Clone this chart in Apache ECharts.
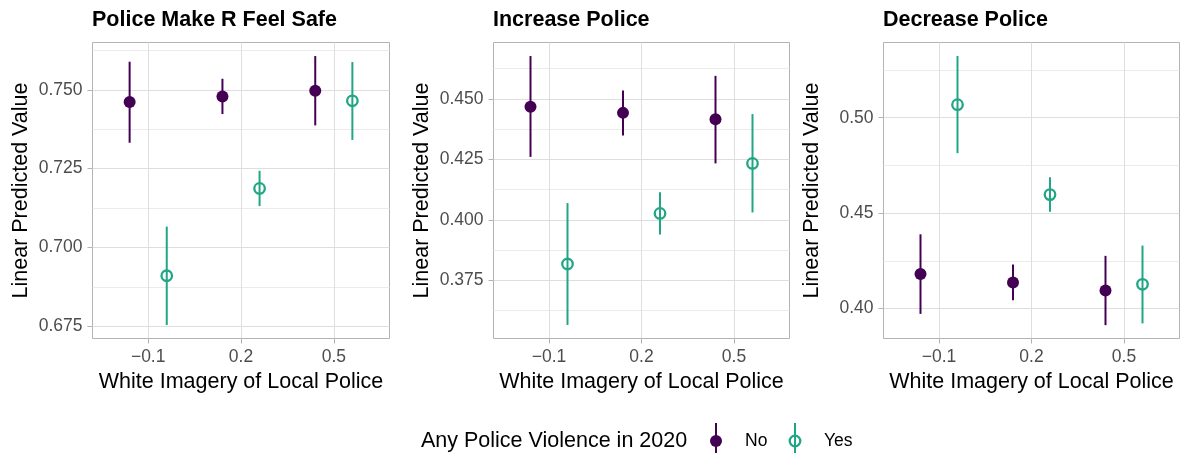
<!DOCTYPE html>
<html>
<head>
<meta charset="utf-8">
<script src="https://cdn.jsdelivr.net/npm/echarts@6/dist/echarts.min.js"></script>
<style>
html,body{margin:0;padding:0;background:#fff;}
#c{width:1182px;height:457px;}
</style>
</head>
<body>
<div id="c"></div>
<script>
// ---- data ----
var panelTitles = ['Police Make R Feel Safe', 'Increase Police', 'Decrease Police'];
var xCategories = ['\u22120.1', '0.2', '0.5'];
var groups = ['No', 'Yes'];

// estimate, lower, upper per category (order: -0.1, 0.2, 0.5)
var safeNo     = [[0.7461, 0.7332, 0.7589], [0.7479, 0.7423, 0.7535], [0.7497, 0.7387, 0.7607]];
var safeYes    = [[0.6910, 0.6754, 0.7066], [0.7187, 0.7131, 0.7243], [0.7465, 0.7341, 0.7588]];
var increaseNo = [[0.4467, 0.4260, 0.4677], [0.4442, 0.4348, 0.4534], [0.4416, 0.4233, 0.4595]];
var increaseYes= [[0.3817, 0.3565, 0.4069], [0.4026, 0.3939, 0.4114], [0.4233, 0.4030, 0.4437]];
var decreaseNo = [[0.4181, 0.3972, 0.4389], [0.4137, 0.4043, 0.4231], [0.4094, 0.3913, 0.4276]];
var decreaseYes= [[0.5068, 0.4814, 0.5323], [0.4597, 0.4507, 0.4688], [0.4127, 0.3922, 0.4330]];

// y tick labels
var safeTicks     = ['0.675', '0.700', '0.725', '0.750'];
var increaseTicks = ['0.375', '0.400', '0.425', '0.450'];
var decreaseTicks = ['0.40', '0.45', '0.50'];
var safeMinor     = [0.6875, 0.7125, 0.7375, 0.7625];
var increaseMinor = [0.3625, 0.3875, 0.4125, 0.4375, 0.4625];
var decreaseMinor = [0.425, 0.475, 0.525];
var yLimits = [[0.6711, 0.7650], [0.3509, 0.4733], [0.3843, 0.5394]];

var xTitle = 'White Imagery of Local Police';
var yTitle = 'Linear Predicted Value';
var legendTitle = 'Any Police Violence in 2020';

// ---- build ----
var FONT = 'Liberation Sans, Arial, Helvetica, sans-serif';
var COL_NO = '#440154';
var COL_YES = '#21A685';
var DODGE = 0.2;

var panels = [
  {no: safeNo, yes: safeYes, ticks: safeTicks, minor: safeMinor},
  {no: increaseNo, yes: increaseYes, ticks: increaseTicks, minor: increaseMinor},
  {no: decreaseNo, yes: decreaseYes, ticks: decreaseTicks, minor: decreaseMinor}
];
var gridLefts = [92.5, 493.5, 883.5];
var gridWidths = [297, 296, 296];

var grids = [], xAxes = [], yAxes = [], series = [], titles = [];

function errRender(color) {
  return function (params, api) {
    var x = api.value(0);
    var p1 = api.coord([x, api.value(1)]);
    var p2 = api.coord([x, api.value(2)]);
    return {
      type: 'line',
      shape: {x1: p1[0], y1: p1[1], x2: p2[0], y2: p2[1]},
      style: {stroke: color, lineWidth: 2}
    };
  };
}

panels.forEach(function (p, i) {
  grids.push({left: gridLefts[i], top: 42.5, width: gridWidths[i], height: 296,
    show: true, borderColor: '#b3b3b3', borderWidth: 1, backgroundColor: 'transparent'});
  titles.push({text: panelTitles[i], left: gridLefts[i] - 5.5, top: 4,
    textStyle: {fontFamily: FONT, fontSize: 21.5, fontWeight: 'bold', color: '#000'}});
  xAxes.push({
    type: 'value', gridIndex: i, min: 0.4, max: 3.6,
    name: xTitle, nameLocation: 'middle', nameGap: 30,
    nameTextStyle: {fontFamily: FONT, fontSize: 21.5, color: '#000'},
    axisLine: {show: false},
    axisTick: {show: true, length: 5, customValues: [1, 2, 3], lineStyle: {color: '#b3b3b3', width: 1}},
    axisLabel: {customValues: [1, 2, 3], margin: 10, fontFamily: FONT, fontSize: 17.5, color: '#4d4d4d',
      formatter: function (v) { return xCategories[Math.round(v) - 1]; }},
    splitLine: {show: true, lineStyle: {color: '#dedede', width: 1}}
  });
  var tickVals = p.ticks.map(function (t) { return parseFloat(t); });
  yAxes.push({
    type: 'value', gridIndex: i, min: yLimits[i][0], max: yLimits[i][1], scale: true,
    name: yTitle, nameLocation: 'middle', nameGap: 60,
    nameTextStyle: {fontFamily: FONT, fontSize: 21.5, color: '#000'},
    axisLine: {show: false},
    axisTick: {show: true, length: 5, customValues: tickVals, lineStyle: {color: '#b3b3b3', width: 1}},
    axisLabel: {customValues: tickVals, margin: 10, fontFamily: FONT, fontSize: 17.5, color: '#4d4d4d',
      formatter: function (v) {
        for (var k = 0; k < tickVals.length; k++) if (Math.abs(tickVals[k] - v) < 1e-9) return p.ticks[k];
        return '';
      }},
    splitLine: {show: true, lineStyle: {color: '#dedede', width: 1}}
  });
  yAxes.push({
    type: 'value', gridIndex: i, min: yLimits[i][0], max: yLimits[i][1], scale: true,
    axisLine: {show: false},
    axisTick: {show: false, customValues: p.minor},
    axisLabel: {show: false, customValues: p.minor},
    splitLine: {show: true, lineStyle: {color: '#ebebeb', width: 1}}
  });

  [['no', COL_NO, -DODGE], ['yes', COL_YES, DODGE]].forEach(function (g) {
    var arr = p[g[0]];
    var errData = arr.map(function (d, k) { return [k + 1 + g[2], d[1], d[2]]; });
    var ptData = arr.map(function (d, k) { return [k + 1 + g[2], d[0]]; });
    series.push({
      type: 'custom', name: g[0] === 'no' ? groups[0] : groups[1],
      xAxisIndex: i, yAxisIndex: 2 * i, renderItem: errRender(g[1]),
      encode: {x: 0, y: [1, 2]}, data: errData, silent: true, z: 3
    });
    series.push({
      type: 'scatter', name: g[0] === 'no' ? groups[0] : groups[1],
      xAxisIndex: i, yAxisIndex: 2 * i, data: ptData, symbol: 'circle',
      symbolSize: g[0] === 'no' ? 12 : 10.5,
      itemStyle: g[0] === 'no' ? {color: COL_NO, opacity: 1}
        : {color: 'transparent', borderColor: COL_YES, borderWidth: 2.3, opacity: 1},
      silent: true, z: 4
    });
  });
});

var legendY = 442;
var graphic = [
  {type: 'text', left: 421, top: legendY - 12,
    style: {text: legendTitle, font: '21.5px ' + FONT, fill: '#000'}},
  {type: 'line', shape: {x1: 716, y1: 423, x2: 716, y2: 453}, style: {stroke: COL_NO, lineWidth: 2}},
  {type: 'circle', shape: {cx: 716, cy: 441, r: 6}, style: {fill: COL_NO}},
  {type: 'text', left: 745, top: legendY - 10,
    style: {text: groups[0], font: '17.5px ' + FONT, fill: '#000'}},
  {type: 'line', shape: {x1: 795, y1: 423, x2: 795, y2: 453}, style: {stroke: COL_YES, lineWidth: 2}},
  {type: 'circle', shape: {cx: 795, cy: 441, r: 5.3}, style: {fill: 'none', stroke: COL_YES, lineWidth: 2.3}},
  {type: 'text', left: 824, top: legendY - 10,
    style: {text: groups[1], font: '17.5px ' + FONT, fill: '#000'}}
];

var chart = echarts.init(document.getElementById('c'), null, {renderer: 'canvas'});
chart.setOption({
  animation: false,
  backgroundColor: '#fff',
  title: titles,
  grid: grids,
  xAxis: xAxes,
  yAxis: yAxes,
  series: series,
  graphic: graphic
});
</script>
</body>
</html>
